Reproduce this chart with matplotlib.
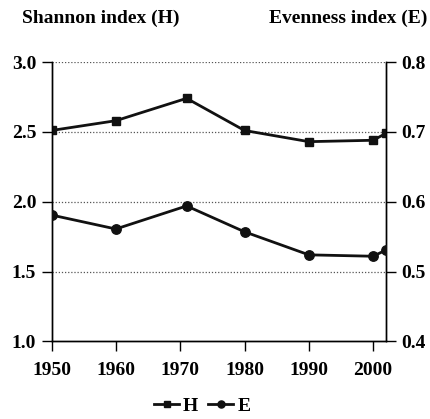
import matplotlib
matplotlib.use('Agg')
import matplotlib.pyplot as plt

# data
years = [1950, 1960, 1971, 1980, 1990, 2000, 2002]
shannon_h = [2.51, 2.58, 2.74, 2.51, 2.43, 2.44, 2.49]
evenness_e = [0.581, 0.561, 0.594, 0.557, 0.524, 0.522, 0.531]
x_ticks = [1950, 1960, 1970, 1980, 1990, 2000]
h_ticks = [1.0, 1.5, 2.0, 2.5, 3.0]
e_ticks = [0.4, 0.5, 0.6, 0.7, 0.8]

plt.rcParams['font.family'] = ['Liberation Serif', 'DejaVu Serif']
plt.rcParams['font.weight'] = 'bold'
fs = 14

fig = plt.figure(figsize=(4.3, 4.19), dpi=100)
ax = fig.add_axes([0.1198, 0.185, 0.778, 0.667])
ax2 = ax.twinx()

ax.set_xlim(1950, 2002)
ax.set_ylim(1.0, 3.0)
ax2.set_ylim(0.4, 0.8)

for y in [1.5, 2.0, 2.5, 3.0]:
    ax.axhline(y, color='#555555', lw=0.9, ls=(0, (1, 1.5)), zorder=0)

lh, = ax.plot(years, shannon_h, color='#111111', lw=2.0, marker='s', ms=6.2, label='H', zorder=3)
le, = ax2.plot(years, evenness_e, color='#111111', lw=2.0, marker='o', ms=6.8, label='E', zorder=3)

ax.set_xticks(x_ticks)
ax.set_yticks(h_ticks)
ax.set_yticklabels([f'{v:.1f}' for v in h_ticks])
ax2.set_yticks(e_ticks)
ax2.set_yticklabels([f'{v:.1f}' for v in e_ticks])

for a in (ax, ax2):
    a.spines['top'].set_visible(False)
    for s in a.spines.values():
        s.set_linewidth(1.0)
    a.tick_params(direction='out', length=7, width=1.0, labelsize=fs, pad=4)
ax.tick_params(axis='x', pad=8)

fig.text(0.05, 0.957, 'Shannon index (H)', fontsize=fs, fontweight='bold', ha='left', va='center')
fig.text(0.995, 0.957, 'Evenness index (E)', fontsize=fs, fontweight='bold', ha='right', va='center')

fig.legend(handles=[lh, le], loc='center', bbox_to_anchor=(0.47, 0.03), ncol=2, frameon=False,
           handlelength=1.3, handletextpad=0.2, columnspacing=0.5, fontsize=fs, markerscale=0.75)

fig.savefig('out.png', dpi=100)
